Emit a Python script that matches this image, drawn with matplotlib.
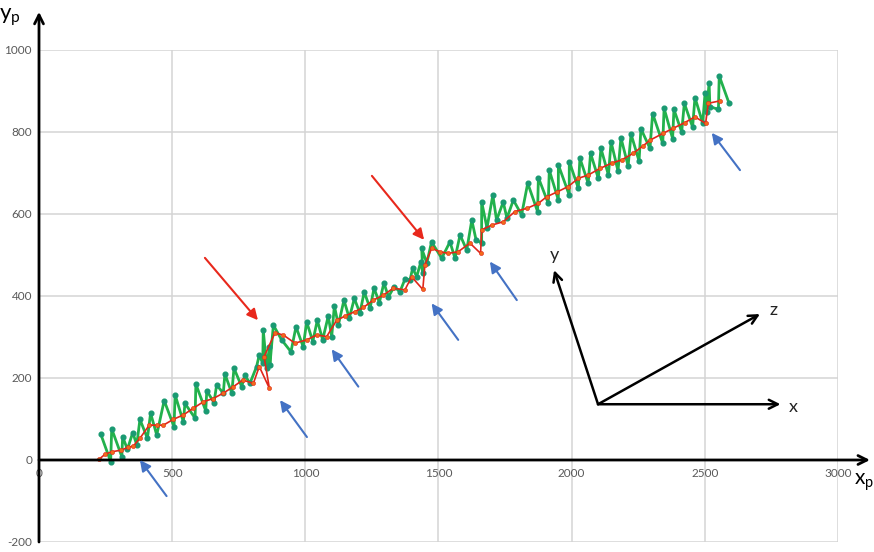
import matplotlib
matplotlib.use("Agg")
import matplotlib.pyplot as plt

plt.rcParams['font.family'] = ['Lato', 'DejaVu Sans']

# Measured trajectory (zig-zag) in plane coordinates
green_x = [232, 269, 273, 311, 314, 332, 352, 367, 379, 407, 419, 442, 470, 507, 511,
           542, 548, 586, 589, 626, 630, 657, 667, 692, 698, 724, 732, 761, 773, 792,
           817, 827, 840, 842, 855, 865, 867, 880, 911, 946, 965, 992, 1005, 1028, 1045,
           1065, 1086, 1099, 1109, 1124, 1145, 1165, 1184, 1205, 1221, 1243, 1258, 1278,
           1295, 1312, 1334, 1355, 1374, 1393, 1403, 1418, 1434, 1441, 1437, 1456, 1474,
           1512, 1543, 1562, 1581, 1606, 1625, 1641, 1662, 1662, 1682, 1704, 1718, 1743,
           1757, 1781, 1812, 1835, 1872, 1875, 1912, 1916, 1950, 1950, 1991, 1991, 2025,
           2031, 2062, 2071, 2100, 2110, 2138, 2148, 2174, 2185, 2212, 2223, 2253, 2260,
           2294, 2304, 2342, 2347, 2379, 2384, 2413, 2423, 2454, 2463, 2492, 2501, 2507,
           2516, 2519, 2551, 2554, 2591]
green_y = [63, -4, 76, 8, 57, 26, 67, 37, 99, 53, 114, 61, 145, 81, 159,
           93, 138, 102, 185, 120, 169, 140, 183, 163, 210, 163, 224, 179, 207, 187,
           228, 256, 236, 317, 224, 276, 232, 329, 293, 264, 325, 276, 337, 289, 341,
           293, 351, 301, 376, 329, 390, 346, 394, 358, 410, 370, 419, 384,
           432, 398, 423, 410, 441, 439, 468, 447, 484, 455, 516, 480, 532,
           492, 532, 492, 549, 512, 585, 537, 529, 630, 566, 646, 585, 629,
           590, 634, 598, 675, 606, 689, 626, 707, 634, 720, 646, 728, 663,
           736, 675, 748, 687, 760, 695, 776, 705, 786, 717, 795, 729, 808,
           760, 845, 772, 858, 784, 855, 800, 870, 812, 884, 822, 896, 850,
           920, 862, 855, 937, 870]

# Smoothed trajectory
red_x = [226, 248, 273, 308, 335, 354, 379, 414, 442, 467, 504, 542, 579, 617, 654,
         692, 730, 765, 805, 827, 865, 845, 886, 917, 961, 1005, 1043, 1080, 1118, 1149,
         1186, 1218, 1255, 1293, 1330, 1374, 1399, 1441, 1449, 1474, 1506, 1537, 1574,
         1618, 1658, 1662, 1700, 1743, 1787, 1833, 1875, 1906, 1946, 1987, 2025, 2062,
         2106, 2150, 2188, 2231, 2268, 2294, 2344, 2381, 2425, 2463, 2503, 2513, 2557]
red_y = [2, 14, 20, 24, 31, 34, 53, 85, 85, 85, 99, 110, 126, 142, 150,
         163, 179, 195, 187, 228, 175, 252, 310, 305, 285, 293, 305, 301, 341, 351,
         362, 372, 390, 402, 419, 415, 447, 416, 476, 516, 508, 504, 508,
         529, 504, 561, 573, 581, 606, 614, 626, 642, 654, 667, 687, 695,
         711, 724, 732, 748, 766, 780, 797, 809, 823, 837, 821, 870, 876]

x_ticks = [0, 500, 1000, 1500, 2000, 2500, 3000]
y_ticks = [-200, 0, 200, 400, 600, 800, 1000]

fig = plt.figure(figsize=(8.74, 5.52), dpi=100)
ax = fig.add_axes([39 / 874, 10 / 552, 799 / 874, 492 / 552])
ax.set_xlim(0, 3000)
ax.set_ylim(-200, 1000)

for s in ax.spines.values():
    s.set_visible(False)
ax.spines['bottom'].set_position(('data', 0))

ax.set_xticks(x_ticks)
ax.set_yticks(y_ticks)
ax.set_xticklabels([str(v) for v in x_ticks])
ax.set_yticklabels([str(v) for v in y_ticks])
ax.tick_params(axis='both', length=0, labelsize=8.5, labelcolor='#595959')
ax.tick_params(axis='x', pad=6)
ax.tick_params(axis='y', pad=5)
ax.grid(True, color='#d4d4d4', lw=1.1)
ax.set_axisbelow(True)

# Main axes with arrow heads
ax.annotate('', xy=(0, 1093), xytext=(0, -200), xycoords='data',
            arrowprops=dict(arrowstyle='->', color='black', lw=2.0,
                            mutation_scale=16, shrinkA=0, shrinkB=0),
            annotation_clip=False, zorder=5)
ax.annotate('', xy=(3120, 0), xytext=(0, 0), xycoords='data',
            arrowprops=dict(arrowstyle='->', color='black', lw=2.0,
                            mutation_scale=16, shrinkA=0, shrinkB=0),
            annotation_clip=False, zorder=5)
ax.text(-70, 1080, r'$\mathregular{y_p}$', fontsize=16, ha='right', va='center',
        clip_on=False)
ax.text(3060, -55, r'$\mathregular{x_p}$', fontsize=15, ha='left', va='center',
        clip_on=False)

# Trajectories
ax.plot(green_x, green_y, color='#22b14c', lw=2.0, marker='o', ms=3.4,
        mfc='#1a9a72', mec='#1a9a72', zorder=3, clip_on=False)
ax.plot(red_x, red_y, color='#e0261a', lw=1.2, marker='o', ms=3.0,
        mfc='#f26a1b', mec='#e0261a', mew=0.4, zorder=4, clip_on=False)

# Pointer arrows
red_arrows = [((623, 493), (822, 341)), ((1250, 693), (1446, 537))]
blue_arrows = [((479, -88), (379, 0)), ((1006, 56), (905, 146)),
               ((1199, 179), (1099, 270)), ((1574, 293), (1474, 382)),
               ((1794, 390), (1693, 484)), ((2632, 707), (2526, 798))]
for tail, head in red_arrows:
    ax.annotate('', xy=head, xytext=tail,
                arrowprops=dict(arrowstyle='-|>', color='#e8281c', lw=1.5,
                                mutation_scale=16, shrinkA=0, shrinkB=0),
                zorder=6)
for tail, head in blue_arrows:
    ax.annotate('', xy=head, xytext=tail,
                arrowprops=dict(arrowstyle='-|>', color='#4472c4', lw=1.5,
                                mutation_scale=16, shrinkA=0, shrinkB=0),
                zorder=6)

# Local coordinate frame
origin = (2099, 136)
frame = {'x': ((2784, 136), (2834, 130)),
         'y': ((1934, 463), (1934, 500)),
         'z': ((2707, 356), (2757, 366))}
for name, (tip, lab) in frame.items():
    ax.annotate('', xy=tip, xytext=origin,
                arrowprops=dict(arrowstyle='->', color='black', lw=1.8,
                                mutation_scale=16, shrinkA=0, shrinkB=0),
                zorder=6)
    ax.text(lab[0], lab[1], name, fontsize=13, ha='center', va='center',
            color='#222222', zorder=6)

fig.savefig('out.png', dpi=100)
